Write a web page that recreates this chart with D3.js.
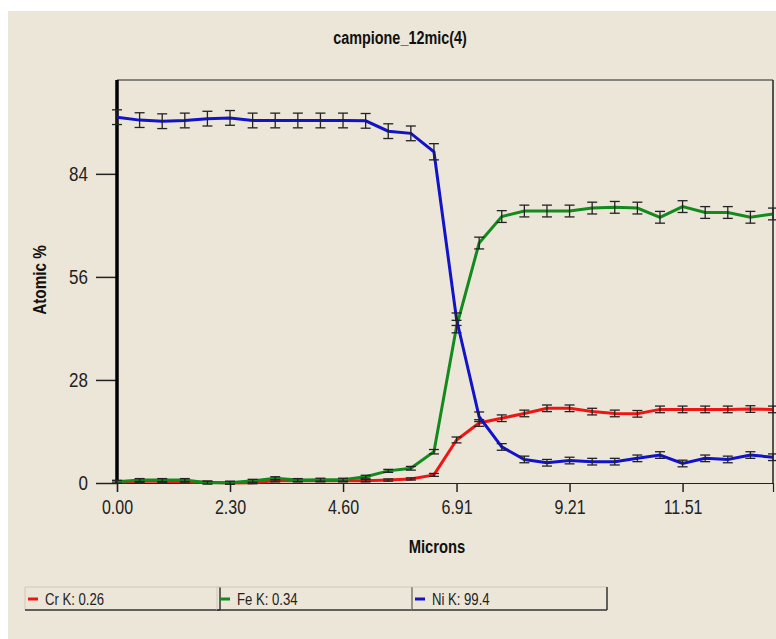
<!DOCTYPE html>
<html>
<head>
<meta charset="utf-8">
<script src="https://cdn.jsdelivr.net/npm/d3@7"></script>
<style>
  body { margin: 0; background: #ffffff; }
  text { font-family: "Liberation Sans", Arial, sans-serif; }
</style>
</head>
<body>
<script>
// sample positions along the line scan (microns)
var microns = [0.00, 0.46, 0.92, 1.38, 1.84, 2.30, 2.76, 3.22, 3.68, 4.14,
               4.60, 5.06, 5.52, 5.98, 6.45, 6.91, 7.37, 7.83, 8.29, 8.75,
               9.21, 9.67, 10.13, 10.59, 11.05, 11.51, 11.97, 12.43, 12.89, 13.35];

var crK = [0.26, 0.5, 0.5, 0.3, 0.2, 0.0, 0.1, 0.6, 0.6, 0.6,
           0.6, 0.6, 0.8, 1.1, 2.2, 11.7, 16.3, 17.6, 18.9, 20.3,
           20.3, 19.4, 18.9, 18.8, 20.0, 20.0, 20.0, 20.0, 20.1, 20.0];
var feK = [0.34, 0.8, 0.8, 0.8, 0.1, 0.1, 0.6, 1.3, 0.8, 0.9,
           0.9, 1.7, 3.3, 4.0, 8.5, 42.5, 65.2, 72.4, 73.9, 73.9,
           73.9, 74.7, 74.9, 74.7, 72.2, 75.1, 73.5, 73.5, 72.2, 73.1];
var niK = [99.4, 98.6, 98.3, 98.5, 99.0, 99.2, 98.5, 98.5, 98.5, 98.5,
           98.5, 98.4, 95.6, 95.0, 90.0, 44.5, 18.0, 9.8, 6.4, 5.5,
           6.1, 5.8, 5.8, 6.7, 7.6, 5.3, 6.7, 6.4, 7.6, 7.0];

// error bar half heights (atomic %)
var crErr = [0.3, 0.3, 0.3, 0.3, 0.3, 0.3, 0.3, 0.3, 0.3, 0.3,
             0.3, 0.3, 0.3, 0.3, 0.4, 0.8, 0.9, 0.9, 0.9, 0.9,
             0.9, 0.9, 0.9, 0.9, 0.9, 0.9, 0.9, 0.9, 0.9, 0.9];
var feErr = [0.4, 0.4, 0.4, 0.4, 0.4, 0.4, 0.4, 0.4, 0.4, 0.4,
             0.4, 0.4, 0.4, 0.5, 0.6, 1.7, 1.6, 1.6, 1.6, 1.6,
             1.6, 1.6, 1.6, 1.6, 1.6, 1.6, 1.6, 1.6, 1.6, 1.6];
var niErr = [2.0, 2.0, 2.0, 2.0, 2.0, 2.0, 2.0, 2.0, 2.0, 2.0,
             2.0, 2.0, 2.0, 2.0, 2.2, 1.7, 1.3, 0.9, 0.9, 0.9,
             0.9, 0.9, 0.9, 0.9, 0.9, 0.9, 0.9, 0.9, 0.9, 0.9];

var xTicks = [0.00, 2.30, 4.60, 6.91, 9.21, 11.51];
var yTicks = [0, 28, 56, 84];

var seriesNames = ["Cr K: 0.26", "Fe K: 0.34", "Ni K: 99.4"];
var seriesColors = ["#f01414", "#128a1e", "#1212c8"];

var width = 776, height = 639;
var plotL = 117, plotR = 773, plotT = 80, plotB = 483;
var fontStack = "'Liberation Sans', Arial, sans-serif";

// the source picture has tall, narrow lettering: squeeze the glyphs sideways
function squeeze(sel, f) {
    sel.each(function() {
        var w = this.getComputedTextLength();
        d3.select(this).attr("textLength", w * f).attr("lengthAdjust", "spacingAndGlyphs");
    });
}

var svg = d3.select("body").append("svg")
    .attr("width", width)
    .attr("height", height);

// beige panel
svg.append("rect")
    .attr("x", 8).attr("y", 11)
    .attr("width", width - 8).attr("height", height - 11)
    .attr("fill", "#ece6d8");

var x = d3.scaleLinear().domain([0, 13.35]).range([plotL, plotR]);
var y = d3.scaleLinear().domain([0, 109.5]).range([plotB, plotT]);

// title
svg.append("text")
    .attr("x", 400).attr("y", 44)
    .attr("text-anchor", "middle")
    .style("font-size", "18px").style("font-weight", "bold")
    .attr("fill", "#111")
    .text("campione_12mic(4)")
    .call(squeeze, 0.8);

// frame: top and right thin
svg.append("line").attr("x1", plotL).attr("x2", plotR).attr("y1", plotT).attr("y2", plotT)
    .attr("stroke", "#222").attr("stroke-width", 1);
svg.append("line").attr("x1", plotR).attr("x2", plotR).attr("y1", plotT).attr("y2", plotB)
    .attr("stroke", "#222").attr("stroke-width", 1.5);

var xAxis = svg.append("g")
    .attr("transform", "translate(0," + plotB + ")")
    .attr("font-family", fontStack)
    .call(d3.axisBottom(x).tickValues(xTicks).tickFormat(d3.format(".2f")).tickSize(9).tickPadding(8));
xAxis.select(".domain").attr("stroke", "#222").attr("stroke-width", 1.2);
xAxis.selectAll(".tick line").attr("stroke", "#222").attr("stroke-width", 1.5);
xAxis.selectAll(".tick text")
    .style("font-size", "20px")
    .attr("fill", "#222")
    .call(squeeze, 0.8);

var yAxis = svg.append("g")
    .attr("transform", "translate(" + plotL + ",0)")
    .attr("font-family", fontStack)
    .call(d3.axisLeft(y).tickValues(yTicks).tickSize(21).tickPadding(8));
yAxis.select(".domain").remove();
yAxis.selectAll(".tick line").attr("stroke", "#222").attr("stroke-width", 1.5);
yAxis.selectAll(".tick text")
    .style("font-size", "20px")
    .attr("fill", "#222")
    .call(squeeze, 0.85);

// thick y axis line
svg.append("line").attr("x1", plotL).attr("x2", plotL).attr("y1", plotT).attr("y2", plotB + 1)
    .attr("stroke", "#000").attr("stroke-width", 3.5);

// axis titles
svg.append("text")
    .attr("x", 437).attr("y", 553)
    .attr("text-anchor", "middle")
    .style("font-size", "18px").style("font-weight", "bold")
    .attr("fill", "#111")
    .text("Microns")
    .call(squeeze, 0.82);

svg.append("text")
    .attr("transform", "translate(46,280) rotate(-90)")
    .attr("text-anchor", "middle")
    .style("font-size", "18px").style("font-weight", "bold")
    .attr("fill", "#111")
    .text("Atomic %")
    .call(squeeze, 0.85);

var line = d3.line()
    .x(function(d) { return x(d.x); })
    .y(function(d) { return y(d.v); });

var allSeries = [crK, feK, niK];
var allErr = [crErr, feErr, niErr];

allSeries.forEach(function(vals, k) {
    var pts = vals.map(function(v, i) { return { x: microns[i], v: v, e: allErr[k][i] }; });

    svg.append("path")
        .datum(pts)
        .attr("fill", "none")
        .attr("stroke", seriesColors[k])
        .attr("stroke-width", 3)
        .attr("d", line);

    var bars = svg.append("g").selectAll("g")
        .data(pts)
        .enter().append("g")
        .attr("stroke", "#222")
        .attr("stroke-width", 1.3);

    bars.append("line")
        .attr("x1", function(d) { return x(d.x); })
        .attr("x2", function(d) { return x(d.x); })
        .attr("y1", function(d) { return y(d.v + d.e); })
        .attr("y2", function(d) { return y(d.v - d.e); });
    bars.append("line")
        .attr("x1", function(d) { return x(d.x) - 5; })
        .attr("x2", function(d) { return x(d.x) + 5; })
        .attr("y1", function(d) { return y(d.v + d.e); })
        .attr("y2", function(d) { return y(d.v + d.e); });
    bars.append("line")
        .attr("x1", function(d) { return x(d.x) - 5; })
        .attr("x2", function(d) { return x(d.x) + 5; })
        .attr("y1", function(d) { return y(d.v - d.e); })
        .attr("y2", function(d) { return y(d.v - d.e); });
});

// legend boxes
var legendX = [25, 217, 412];
var legendW = 195;
var legend = svg.append("g").selectAll("g")
    .data(seriesNames)
    .enter().append("g")
    .attr("transform", function(d, i) { return "translate(" + legendX[i] + ",587)"; });

legend.append("line").attr("x1", 0).attr("x2", legendW).attr("y1", 0).attr("y2", 0)
    .attr("stroke", "#cfc8b8").attr("stroke-width", 1);
legend.append("line").attr("x1", 0).attr("x2", 0).attr("y1", 0).attr("y2", 23)
    .attr("stroke", "#cfc8b8").attr("stroke-width", 1);
legend.append("line").attr("x1", 0).attr("x2", legendW).attr("y1", 23).attr("y2", 23)
    .attr("stroke", "#333").attr("stroke-width", 1.5);
legend.append("line").attr("x1", legendW).attr("x2", legendW).attr("y1", 0).attr("y2", 23)
    .attr("stroke", "#333").attr("stroke-width", 1.5);
legend.append("line").attr("x1", 3).attr("x2", 13).attr("y1", 12).attr("y2", 12)
    .attr("stroke", function(d, i) { return seriesColors[i]; }).attr("stroke-width", 3);
legend.append("text")
    .attr("x", 20).attr("y", 18)
    .style("font-size", "16px")
    .attr("fill", "#222")
    .text(function(d) { return d; })
    .call(squeeze, 0.82);
</script>
</body>
</html>
